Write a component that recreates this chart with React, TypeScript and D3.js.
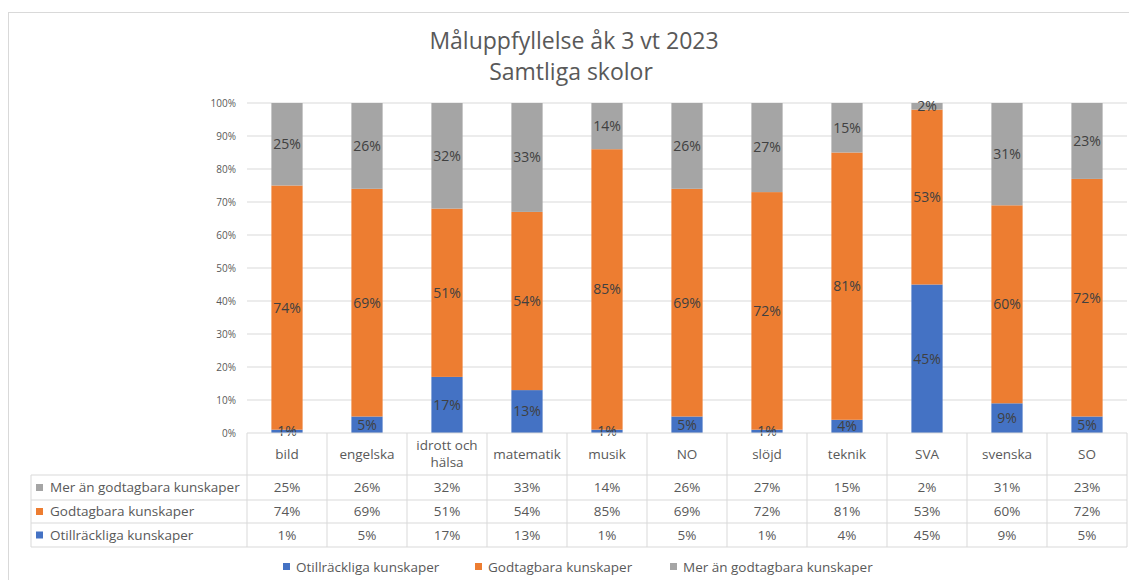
import React from 'react';
import * as d3 from 'd3';

const categories = ['bild', 'engelska', 'idrott och hälsa', 'matematik', 'musik', 'NO', 'slöjd', 'teknik', 'SVA', 'svenska', 'SO'];
const otillrackliga = [1, 5, 17, 13, 1, 5, 1, 4, 45, 9, 5];
const godtagbara = [74, 69, 51, 54, 85, 69, 72, 81, 53, 60, 72];
const merAn = [25, 26, 32, 33, 14, 26, 27, 15, 2, 31, 23];
const seriesNames = ['Otillräckliga kunskaper', 'Godtagbara kunskaper', 'Mer än godtagbara kunskaper'];
const yTicks = [0, 0.1, 0.2, 0.3, 0.4, 0.5, 0.6, 0.7, 0.8, 0.9, 1];

const COLORS = ['#4472C4', '#ED7D31', '#A5A5A5'];
const FONT = '"Open Sans", "Noto Sans", sans-serif';
const W = 1129;
const H = 580;

export default function App() {
  const left = 247;
  const right = 1127;
  const top = 103;
  const bottom = 433;
  const rowH = [42, 25, 23, 24];

  const x = d3.scaleBand<string>().domain(categories).range([left, right]).padding(0);
  const y = d3.scaleLinear().domain([0, 1]).range([bottom, top]);
  const barW = x.bandwidth() * 0.39;

  const rows = categories.map((c, i) => ({ cat: c, v: [otillrackliga[i], godtagbara[i], merAn[i]] }));
  const stack = d3.stack<any>().keys(['0', '1', '2']).offset(d3.stackOffsetExpand)
    .value((d, k) => d.v[+k]);
  const stacked = stack(rows);

  const pct = d3.format('.0%');
  const tableRows = [merAn, godtagbara, otillrackliga];
  const tableNames = [seriesNames[2], seriesNames[1], seriesNames[0]];
  const tableColors = [COLORS[2], COLORS[1], COLORS[0]];
  const rowTops = [bottom, bottom + rowH[0], bottom + rowH[0] + rowH[1], bottom + rowH[0] + rowH[1] + rowH[2]];
  const tableBottom = rowTops[3] + rowH[3];
  const tableLeft = 31;

  const legendX = [283, 475, 670];

  return (
    <svg width={W} height={H} style={{ position: 'absolute', left: 0, top: 0, background: '#fff' }} fontFamily={FONT}>
      <rect x={8.5} y={12.5} width={W + 10} height={H + 10} fill="#fff" stroke="#d9d9d9" />

      <text x={574} y={49} textAnchor="middle" fontSize={23} fill="#595959">Måluppfyllelse åk 3 vt 2023</text>
      <text x={571} y={80} textAnchor="middle" fontSize={23} fill="#595959">Samtliga skolor</text>

      {/* gridlines + y ticks */}
      {yTicks.map(t => (
        <g key={t}>
          {t > 0 && <line x1={left} x2={right} y1={y(t)} y2={y(t)} stroke="#d9d9d9" strokeWidth={1} />}
          <text x={236} y={y(t)} dy="0.35em" textAnchor="end" fontSize={10} fill="#595959">{pct(t)}</text>
        </g>
      ))}

      {/* bars */}
      {stacked.map((s, si) => (
        <g key={si} fill={COLORS[si]}>
          {s.map((d, i) => (
            <rect key={i} x={x(categories[i])! + (x.bandwidth() - barW) / 2} y={y(d[1])}
              width={barW} height={y(d[0]) - y(d[1])} />
          ))}
        </g>
      ))}

      {/* data labels */}
      {stacked.map((s, si) => (
        <g key={'l' + si}>
          {s.map((d, i) => (
            <text key={i} x={x(categories[i])! + x.bandwidth() / 2} y={y((d[0] + d[1]) / 2)} dy="0.35em"
              textAnchor="middle" fontSize={14} fill="#404040">{pct(rows[i].v[si] / 100)}</text>
          ))}
        </g>
      ))}

      {/* data table */}
      <g stroke="#d9d9d9" strokeWidth={1} fill="none">
        <line x1={left} x2={right} y1={bottom} y2={bottom} />
        {rowTops.slice(1).map((ry, i) => (
          <line key={i} x1={tableLeft} x2={right} y1={ry} y2={ry} />
        ))}
        <line x1={tableLeft} x2={right} y1={tableBottom} y2={tableBottom} />
        <line x1={tableLeft} x2={tableLeft} y1={rowTops[1]} y2={tableBottom} />
        {categories.map(c => (
          <line key={c} x1={x(c)!} x2={x(c)!} y1={bottom} y2={tableBottom} />
        ))}
        <line x1={right} x2={right} y1={bottom} y2={tableBottom} />
      </g>

      {categories.map(c => {
        const cx = x(c)! + x.bandwidth() / 2;
        const cy = bottom + rowH[0] / 2;
        if (c === 'idrott och hälsa') {
          return (
            <text key={c} x={cx} textAnchor="middle" fontSize={13.5} fill="#595959">
              <tspan x={cx} y={cy - 8.5} dy="0.35em">idrott och</tspan>
              <tspan x={cx} y={cy + 8.5} dy="0.35em">hälsa</tspan>
            </text>
          );
        }
        return <text key={c} x={cx} y={cy} dy="0.35em" textAnchor="middle" fontSize={13.5} fill="#595959">{c}</text>;
      })}

      {tableRows.map((vals, ri) => {
        const cy = rowTops[ri + 1] + rowH[ri + 1] / 2;
        return (
          <g key={ri}>
            <rect x={36} y={cy - 3.5} width={7} height={7} fill={tableColors[ri]} />
            <text x={50} y={cy} dy="0.35em" fontSize={13.5} fill="#595959">{tableNames[ri]}</text>
            {vals.map((v, i) => (
              <text key={i} x={x(categories[i])! + x.bandwidth() / 2} y={cy} dy="0.35em" textAnchor="middle"
                fontSize={13.5} fill="#595959">{pct(v / 100)}</text>
            ))}
          </g>
        );
      })}

      {/* legend */}
      {seriesNames.map((n, i) => (
        <g key={n}>
          <rect x={legendX[i]} y={563} width={7} height={7} fill={COLORS[i]} />
          <text x={legendX[i] + 13} y={567} dy="0.35em" fontSize={13.5} fill="#595959">{n}</text>
        </g>
      ))}
    </svg>
  );
}
